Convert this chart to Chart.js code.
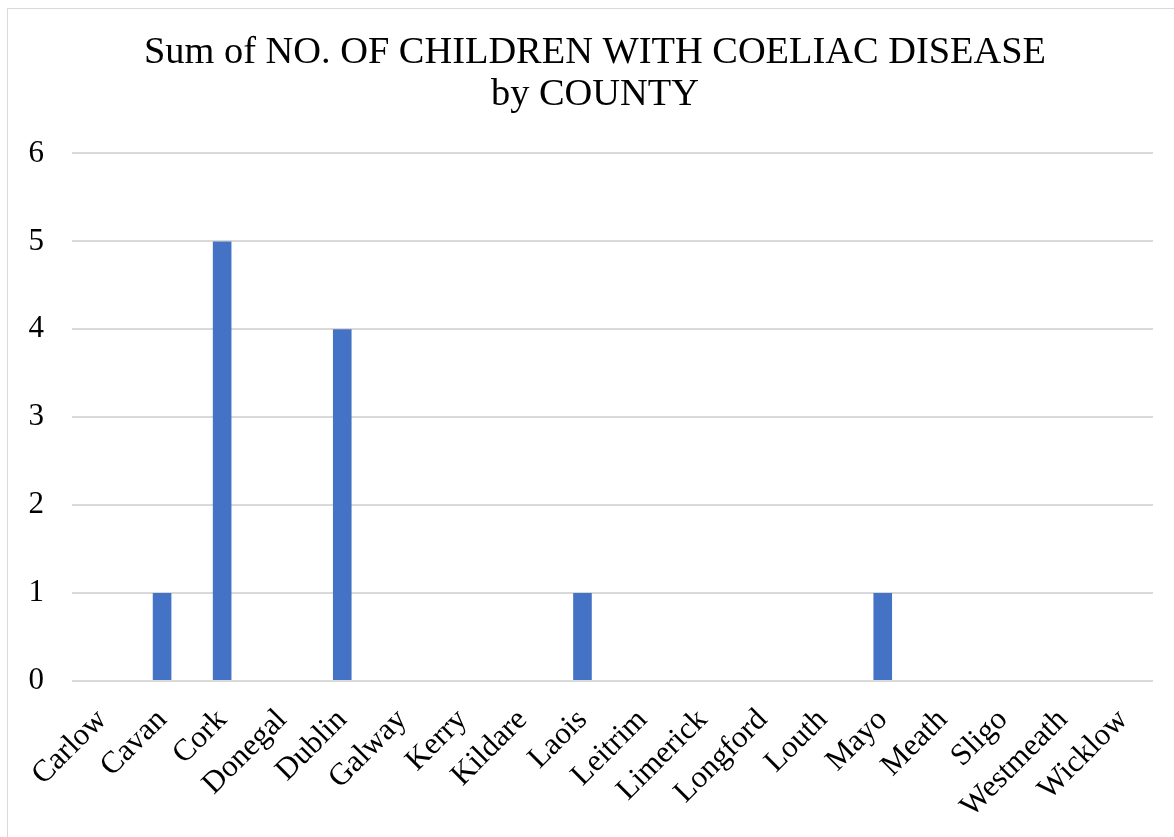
<!DOCTYPE html>
<html>
<head>
<meta charset="utf-8">
<script src="https://cdn.jsdelivr.net/npm/chart.js@4"></script>
<style>
  html, body { margin: 0; padding: 0; background: #ffffff; }
  #wrap { position: relative; width: 1174px; height: 837px; }
</style>
</head>
<body>
<div id="wrap"><canvas id="chart" width="1174" height="837"></canvas></div>
<script>
// Counties shown along the category axis
const counties = ['Carlow', 'Cavan', 'Cork', 'Donegal', 'Dublin', 'Galway', 'Kerry', 'Kildare',
  'Laois', 'Leitrim', 'Limerick', 'Longford', 'Louth', 'Mayo', 'Meath', 'Sligo', 'Westmeath', 'Wicklow'];
// Number of children with coeliac disease per county
const childrenWithCoeliac = [0, 1, 5, 0, 4, 0, 0, 0, 1, 0, 0, 0, 0, 1, 0, 0, 0, 0];
// Value axis ticks
const yTicks = [0, 1, 2, 3, 4, 5, 6];

const titleLines = ['Sum of NO. OF CHILDREN WITH COELIAC DISEASE', 'by COUNTY'];
const serif = "'Liberation Serif', 'Times New Roman', serif";

// Thin frame around the chart
const framePlugin = {
  id: 'frame',
  beforeDraw(chart) {
    const ctx = chart.ctx;
    ctx.save();
    ctx.strokeStyle = '#d9d9d9';
    ctx.lineWidth = 1;
    ctx.strokeRect(7.5, 8.5, chart.width + 20, chart.height + 20);
    ctx.restore();
  }
};

new Chart(document.getElementById('chart'), {
  type: 'bar',
  data: {
    labels: counties,
    datasets: [{
      data: childrenWithCoeliac,
      backgroundColor: '#4472c4',
      barPercentage: 0.31,
      categoryPercentage: 1.0
    }]
  },
  options: {
    responsive: false,
    animation: false,
    layout: { padding: { top: 10, left: 16, right: 0, bottom: 0 } },
    plugins: {
      legend: { display: false },
      tooltip: { enabled: false },
      title: {
        display: true,
        text: titleLines,
        color: '#000000',
        font: { family: serif, size: 38.4, weight: 'normal', lineHeight: 1.1 },
        padding: { top: 22, bottom: 37 }
      }
    },
    scales: {
      x: {
        grid: { display: false },
        border: { display: false },
        ticks: {
          color: '#000000',
          font: { family: serif, size: 31 },
          minRotation: 45,
          maxRotation: 45,
          autoSkip: false,
          padding: 13
        },
        afterFit(scale) { scale.height = 156; }
      },
      y: {
        min: yTicks[0],
        max: yTicks[yTicks.length - 1],
        grid: { color: '#d9d9d9', lineWidth: 2, drawTicks: false },
        border: { display: false },
        afterBuildTicks(scale) { scale.ticks = yTicks.map(v => ({ value: v })); },
        ticks: {
          color: '#000000',
          font: { family: serif, size: 31 },
          padding: 28
        },
        afterFit(scale) { scale.width = 56; }
      },
      // empty right-hand margin beside the plot
      yRight: {
        position: 'right',
        grid: { display: false },
        border: { display: false },
        ticks: { display: false },
        afterFit(scale) { scale.width = 21; }
      }
    }
  },
  plugins: [framePlugin]
});
</script>
</body>
</html>
